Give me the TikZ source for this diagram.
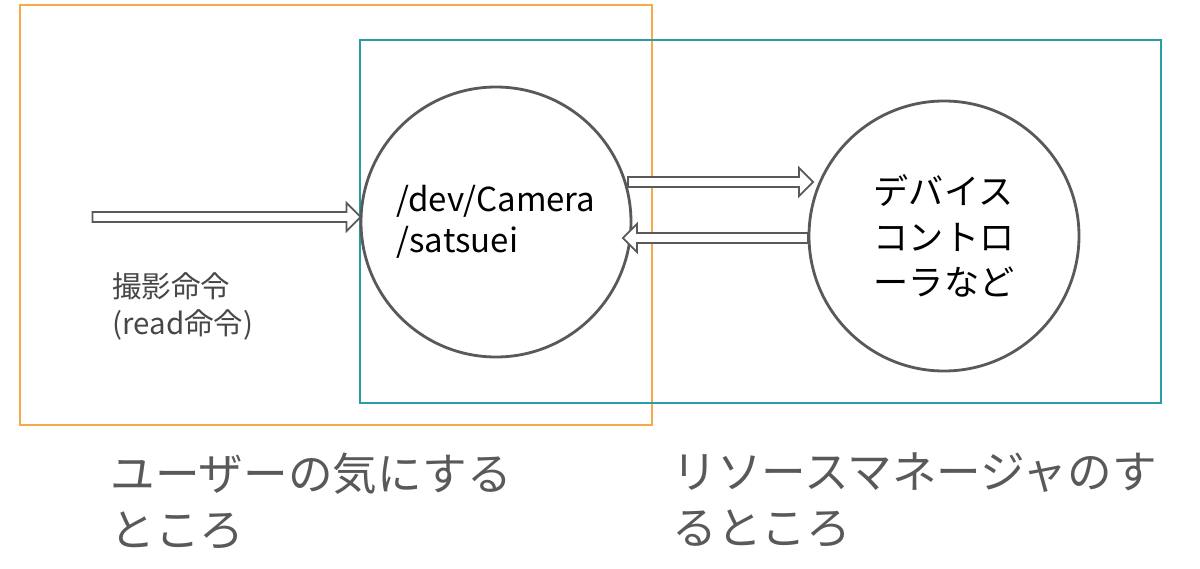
\documentclass[tikz,border=0pt]{standalone}
\usepackage{fontspec}
\setmainfont{Noto Sans CJK JP}
\usetikzlibrary{shapes.arrows, positioning}
\definecolor{boxorange}{HTML}{F5A94A}
\definecolor{boxteal}{HTML}{2A9CA6}
\definecolor{txtgray}{HTML}{595959}
\tikzset{
    proc/.style={circle, draw=txtgray, thick, minimum size=2.7cm, align=left, text=black},
    flow/.style={single arrow, draw=txtgray, fill=white, minimum height=#1, minimum width=0.28cm,
        single arrow head extend=0.05cm, inner sep=0.02cm, line width=0.5pt},
    note/.style={align=left, text=txtgray!80!black, font=\fontsize{8.4}{10.5}\selectfont},
    big/.style={align=left, text=txtgray, font=\fontsize{12.7}{16}\selectfont, anchor=north west}
}
\begin{document}
\begin{tikzpicture}
    \useasboundingbox (0,0) rectangle (12,5.68);
    \draw[boxorange, thick] (0.20,5.63) rectangle (6.52,1.43);
    \draw[boxteal, thick] (3.60,5.28) rectangle (11.61,1.65);

    \node[proc, font=\fontsize{9.4}{11.5}\selectfont] (cam) at (4.96,3.46) {/dev/Camera\\/satsuei};
    \node[proc, font=\fontsize{10}{13}\selectfont] (dev) at (9.44,3.32) {デバイス\\コントロ\\ーラなど};

    \node[flow=2.68cm] (in) at (2.24,3.51) {};
    \node[flow=1.85cm] (req) at (7.18,3.86) {};
    \node[flow=1.85cm, shape border rotate=180] (res) at (7.18,3.30) {};

    \node[note, anchor=north west] (cmd) at (1.00,3.08) {撮影命令\\(read命令)};
    \node[big] (user) at (0.98,1.28) {ユーザーの気にする\\ところ};
    \node[big] (rm) at (6.60,1.28) {リソースマネージャのす\\るところ};
\end{tikzpicture}
\end{document}
